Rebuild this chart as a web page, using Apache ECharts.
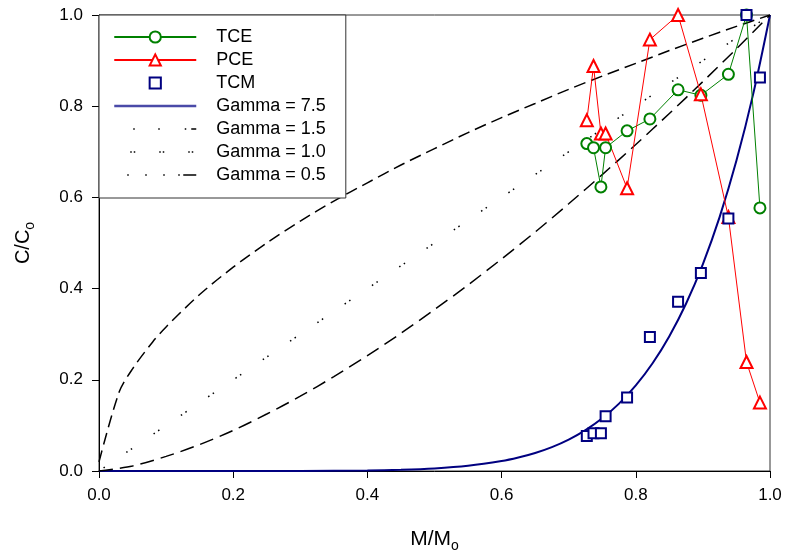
<!DOCTYPE html>
<html>
<head>
<meta charset="utf-8">
<script src="https://cdn.jsdelivr.net/npm/echarts@6/dist/echarts.min.js"></script>
<style>html,body{margin:0;padding:0;background:#fff}#c{width:786px;height:558px}</style>
</head>
<body>
<div id="c"></div>
<script>
// ---- data ----
var mRatio = [0.727, 0.737, 0.748, 0.755, 0.787, 0.821, 0.863, 0.897, 0.938, 0.965, 0.985];
var tce = [0.718, 0.709, 0.623, 0.709, 0.746, 0.772, 0.836, 0.824, 0.870, 1.000, 0.577];
var pce = [0.769, 0.888, 0.740, 0.740, 0.620, 0.946, 1.000, 0.826, 0.557, 0.239, 0.150];
var tcm = [0.077, 0.083, 0.083, 0.120, 0.161, 0.294, 0.371, 0.434, 0.554, 1.000, 0.863];

var g75X = [0, 0.1, 0.2, 0.3, 0.4, 0.45, 0.5, 0.55, 0.6, 0.625, 0.65, 0.675, 0.7, 0.725, 0.75, 0.775, 0.8, 0.825, 0.85, 0.875, 0.9, 0.925, 0.95, 0.975, 1.0];
var g75Y = [0, 0, 0, 0.0001, 0.001, 0.0025, 0.0055, 0.0113, 0.0217, 0.0295, 0.0395, 0.0524, 0.0689, 0.0896, 0.1156, 0.1478, 0.1876, 0.2362, 0.2956, 0.3673, 0.4538, 0.5573, 0.6807, 0.827, 1.0];
var g15X = [0, 0.05, 0.1, 0.15, 0.2, 0.25, 0.3, 0.35, 0.4, 0.45, 0.5, 0.55, 0.6, 0.65, 0.7, 0.75, 0.8, 0.85, 0.9, 0.95, 1.0];
var g15Y = [0, 0.011, 0.032, 0.058, 0.089, 0.125, 0.164, 0.207, 0.253, 0.302, 0.354, 0.408, 0.465, 0.524, 0.586, 0.650, 0.716, 0.784, 0.854, 0.926, 1.0];
var g10X = [0, 1.0];
var g10Y = [0, 1.0];
var g05X = [0, 0.03, 0.05, 0.08, 0.1, 0.15, 0.2, 0.25, 0.3, 0.35, 0.4, 0.45, 0.5, 0.55, 0.6, 0.65, 0.7, 0.75, 0.8, 0.85, 0.9, 0.95, 1.0];
var g05Y = [0.02, 0.173, 0.224, 0.283, 0.316, 0.387, 0.447, 0.5, 0.548, 0.592, 0.632, 0.671, 0.707, 0.742, 0.775, 0.806, 0.837, 0.866, 0.894, 0.922, 0.949, 0.975, 1.0];

var seriesNames = ['TCE', 'PCE', 'TCM', 'Gamma = 7.5', 'Gamma = 1.5', 'Gamma = 1.0', 'Gamma = 0.5'];
var tickValues = [0, 0.2, 0.4, 0.6, 0.8, 1.0];

function pairs(xs, ys) { return xs.map(function (x, i) { return [x, ys[i]]; }); }

var FONT = 'Liberation Sans, Arial, sans-serif';
var noSym = { opacity: 0 };
var chart = echarts.init(document.getElementById('c'));
chart.setOption({
  animation: false,
  backgroundColor: '#fff',
  textStyle: { fontFamily: FONT },
  grid: { left: 99, right: 16, top: 15, bottom: 82, show: true, borderColor: '#333', borderWidth: 1 },
  xAxis: {
    type: 'value', min: 0, max: 1, interval: 0.2,
    name: '{a|M/M}{b|o}', nameLocation: 'middle', nameGap: 55,
    nameTextStyle: { rich: { a: { fontSize: 21, color: '#000', fontFamily: FONT }, b: { fontSize: 14, color: '#000', fontFamily: FONT, padding: [13, 0, 0, 0] } } },
    axisLine: { lineStyle: { color: '#000', width: 1 } },
    axisTick: { inside: false, length: 7, lineStyle: { color: '#000' } },
    axisLabel: { margin: 16, fontSize: 17, color: '#000', fontFamily: FONT, formatter: function (v) { return v.toFixed(1); } },
    splitLine: { show: false }
  },
  yAxis: {
    type: 'value', min: 0, max: 1, interval: 0.2,
    name: '{a|C/C}{b|o}', nameLocation: 'middle', nameGap: 62,
    nameTextStyle: { rich: { a: { fontSize: 20, color: '#000', fontFamily: FONT }, b: { fontSize: 14, color: '#000', fontFamily: FONT, padding: [13, 0, 0, 0] } } },
    axisLine: { lineStyle: { color: '#000', width: 1 } },
    axisTick: { inside: false, length: 7, lineStyle: { color: '#000' } },
    axisLabel: { margin: 16, fontSize: 17, color: '#000', fontFamily: FONT, formatter: function (v) { return v.toFixed(1); } },
    splitLine: { show: false }
  },
  legend: {
    data: [
      { name: seriesNames[0] },
      { name: seriesNames[1] },
      { name: seriesNames[2] },
      { name: seriesNames[3], itemStyle: noSym, lineStyle: { color: '#4a4aa8', width: 2.5 } },
      { name: seriesNames[4], itemStyle: noSym, lineStyle: { type: [0, 19, 1.5, 23.5, 1.5, 25, 1.5, 5, 6, 200], width: 1.5 } },
      { name: seriesNames[5], itemStyle: noSym, lineStyle: { type: [0, 16, 1.5, 2, 1.5, 24, 1.5, 2, 1.5, 24, 1.5, 2, 1.5, 200], width: 1.5 } },
      { name: seriesNames[6], itemStyle: noSym, lineStyle: { type: [0, 13, 1.5, 16.5, 1.5, 16.5, 1.5, 13.5, 1.5, 3.5, 14, 200], width: 1.5 } }
    ],
    orient: 'vertical', left: 99, top: 15,
    padding: [13, 20, 14, 14],
    itemWidth: 82, itemHeight: 14, itemGap: 5,
    backgroundColor: '#fff', borderColor: '#333', borderWidth: 1, borderRadius: 0,
    textStyle: { fontSize: 18, color: '#000', fontFamily: FONT, lineHeight: 18, padding: [0, 0, 0, 15] },
    z: 10
  },
  series: [
    { name: 'Gamma = 7.5', type: 'line', data: pairs(g75X, g75Y), symbol: 'none', smooth: 0.3,
      lineStyle: { color: '#000080', width: 2 }, itemStyle: { color: '#000080' }, z: 2 },
    { name: 'Gamma = 1.5', type: 'line', data: pairs(g15X, g15Y), symbol: 'none', smooth: 0.3,
      lineStyle: { color: '#000', width: 1.5, type: [14, 7] }, itemStyle: { color: '#000' }, z: 2 },
    { name: 'Gamma = 1.0', type: 'line', data: pairs(g10X, g10Y), symbol: 'none',
      lineStyle: { color: '#000', width: 1.5, type: [1.5, 4, 1.5, 26] }, itemStyle: { color: '#000' }, z: 2 },
    { name: 'Gamma = 0.5', type: 'line', data: pairs(g05X, g05Y), symbol: 'none', smooth: 0.3,
      lineStyle: { color: '#000', width: 1.5, type: [12, 6] }, itemStyle: { color: '#000' }, z: 2 },
    { name: 'TCE', type: 'line', data: pairs(mRatio, tce), symbol: 'emptyCircle', symbolSize: 11,
      lineStyle: { color: '#008000', width: 1 }, itemStyle: { color: '#008000', borderWidth: 1 }, z: 3 },
    { name: 'PCE', type: 'line', data: pairs(mRatio, pce), symbol: 'emptyTriangle', symbolSize: 12,
      lineStyle: { color: '#ff0000', width: 1 }, itemStyle: { color: '#ff0000', borderWidth: 1 }, z: 3 },
    { name: 'TCM', type: 'line', data: pairs(mRatio, tcm), symbol: 'emptyRect', symbolSize: 10,
      lineStyle: { opacity: 0, width: 0 }, itemStyle: { color: '#000080', borderWidth: 1.3 }, z: 4 }
  ]
});
</script>
</body>
</html>
